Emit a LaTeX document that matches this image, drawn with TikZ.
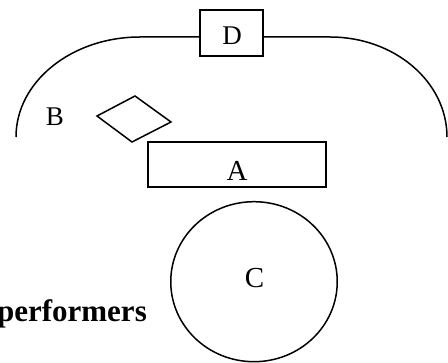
\documentclass[tikz,border=0pt]{standalone}
\usepackage{fontspec}
\setmainfont{Liberation Serif}
\usetikzlibrary{shapes.geometric}
\begin{document}
\begin{tikzpicture}[x=1pt,y=-1pt,
  shapeline/.style={draw=black,line width=1.5pt},
  boxnode/.style={shapeline,rectangle,inner sep=0pt},
  lettertext/.style={font=\fontsize{27}{27}\selectfont,inner sep=0pt,anchor=base},
  bigletter/.style={font=\fontsize{29}{29}\selectfont,inner sep=0pt,anchor=base},
  boldtext/.style={font=\fontsize{31}{31}\selectfont\bfseries,inner sep=0pt,anchor=base east}]
\useasboundingbox (0,0) rectangle (448,363);
% D box on the track
\node[boxnode,minimum width=63pt,minimum height=46pt] (D) at (231.5,33) {};
\node[lettertext] (Dt) at (232,45) {D};
% track
\coordinate (Lend) at (16,137);
\coordinate (Ltop) at (140,37);
\coordinate (Rtop) at (330,37);
\draw[shapeline] (Lend) arc[start angle=180,end angle=90,x radius=124pt,y radius=100pt] -- (D.west |- Ltop);
\draw[shapeline] (D.east |- Rtop) -- (Rtop) arc[start angle=90,end angle=0,x radius=117pt,y radius=100pt];
% B
\node[lettertext] (Bt) at (55,126) {B};
\coordinate (b1) at (97,116);
\coordinate (b2) at (135,96);
\coordinate (b3) at (171,122);
\coordinate (b4) at (132,142);
\draw[shapeline,line join=miter] (b1) -- (b2) -- (b3) -- (b4) -- cycle;
% A
\node[boxnode,minimum width=178pt,minimum height=45pt] (A) at (237,164.5) {};
\node[bigletter] (At) at (237,180.5) {A};
% C
\node[shapeline,ellipse,minimum width=166.5pt,minimum height=160pt,inner sep=0pt] (C) at (254,281.7) {};
\node[bigletter] (Ct) at (254.5,287.5) {C};
% performers
\node[boldtext] (P) at (147,321.5) {performers};
\end{tikzpicture}
\end{document}
